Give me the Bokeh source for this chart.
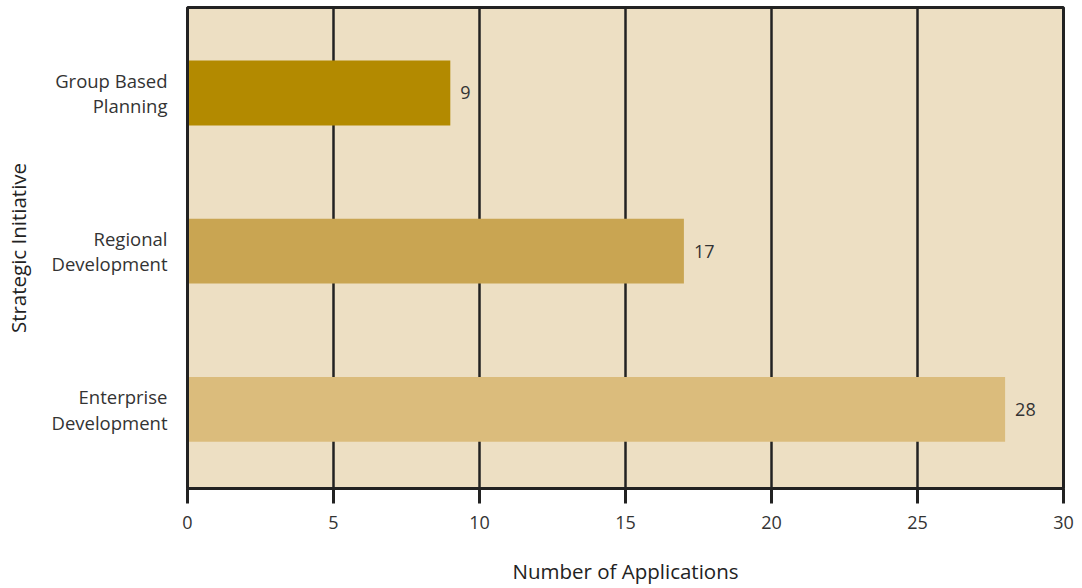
from bokeh.plotting import figure
from bokeh.models import ColumnDataSource, FixedTicker, LabelSet
from bokeh.core.properties import value
from bokeh.embed import file_html
from bokeh.resources import INLINE

# Applications per strategic initiative (listed bottom to top)
initiatives = ["Enterprise Development", "Regional Development", "Group Based Planning"]
name_lines = [["Enterprise", "Development"], ["Regional", "Development"], ["Group Based", "Planning"]]
applications = [28, 17, 9]
bar_colors = ["#DBBC7C", "#C9A552", "#B38A00"]
x_ticks = [0, 5, 10, 15, 20, 25, 30]

FONT = "Open Sans"
TEXT = "#333333"

# one slot per initiative on a numeric y scale
slots = [i + 0.5 for i in range(len(initiatives))]

source = ColumnDataSource(dict(
    initiative=initiatives,
    y=slots,
    count=applications,
    color=bar_colors,
    label=[str(v) for v in applications],
))

p = figure(
    width=1082, height=588,
    x_range=(0, 30), y_range=(0, len(initiatives) + 0.04),
    output_backend="svg", toolbar_location=None,
    min_border_left=187, min_border_right=19,
    min_border_top=7, min_border_bottom=100,
)

p.background_fill_color = "#EDDFC3"
p.border_fill_color = "white"
p.outline_line_color = "#222222"
p.outline_line_width = 3

p.hbar(y="y", right="count", left=0, height=0.41,
       color="color", line_color=None, source=source)

# value labels at the end of each bar
labels = LabelSet(x="count", y="y", text="label", source=source,
                  x_offset=10, y_offset=0, text_baseline="middle",
                  text_font=value(FONT), text_font_size="18px", text_color=TEXT)
p.add_layout(labels)

# vertical grid lines at every 5 applications
p.xgrid.ticker = FixedTicker(ticks=x_ticks)
p.xgrid.grid_line_color = "#222222"
p.xgrid.grid_line_width = 2.5
p.ygrid.grid_line_color = None

xa = p.xaxis[0]
xa.ticker = FixedTicker(ticks=x_ticks)
xa.axis_line_color = "#222222"
xa.axis_line_width = 3
xa.major_tick_line_color = "#222222"
xa.major_tick_line_width = 3
xa.major_tick_in = 0
xa.major_tick_out = 15
xa.minor_tick_line_color = None
xa.major_label_standoff = 12
xa.major_label_text_font = FONT
xa.major_label_text_font_size = "18px"
xa.major_label_text_color = TEXT
xa.axis_label = "Number of Applications"
xa.axis_label_text_font = FONT
xa.axis_label_text_font_size = "20.5px"
xa.axis_label_text_font_style = "normal"
xa.axis_label_text_color = "#222222"
xa.axis_label_standoff = 25

# category names set as two tick labels each, one per line
line_gap = 0.08
name_ticks, name_text = [], {}
for y, (first, second) in zip(slots, name_lines):
    for pos, txt in ((y + line_gap, first), (y - line_gap, second)):
        name_ticks.append(pos)
        name_text[pos] = txt

ya = p.yaxis[0]
ya.ticker = FixedTicker(ticks=name_ticks)
ya.major_label_overrides = name_text
ya.axis_line_color = "#222222"
ya.axis_line_width = 3
ya.major_tick_line_color = None
ya.minor_tick_line_color = None
ya.major_tick_in = 0
ya.major_tick_out = 0
ya.major_label_standoff = 20
ya.major_label_text_font = FONT
ya.major_label_text_font_size = "18.5px"
ya.major_label_text_color = TEXT
ya.axis_label = "Strategic Initiative"
ya.axis_label_text_font = FONT
ya.axis_label_text_font_size = "20.5px"
ya.axis_label_text_font_style = "normal"
ya.axis_label_text_color = "#222222"
ya.axis_label_standoff = 16

open("out.html", "w").write(file_html(p, INLINE))
